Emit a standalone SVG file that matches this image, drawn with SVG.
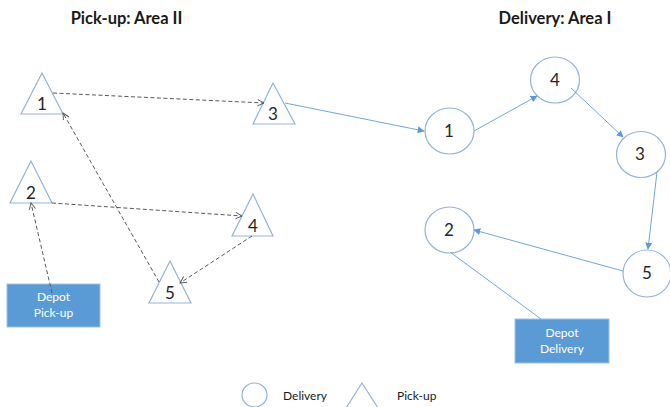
<svg xmlns="http://www.w3.org/2000/svg" width="670" height="407" viewBox="0 0 670 407">
<defs>
<marker id="open" viewBox="0 0 10 10" refX="9" refY="5" markerWidth="8" markerHeight="8" markerUnits="userSpaceOnUse" orient="auto">
<path d="M1,1 L9,5 L1,9" fill="none" stroke="#595959" stroke-width="1.2"/>
</marker>
<marker id="solid" viewBox="0 0 10 10" refX="9" refY="5" markerWidth="7" markerHeight="7" markerUnits="userSpaceOnUse" orient="auto">
<path d="M0,0 L10,5 L0,10 Z" fill="#5B9BD5"/>
</marker>
</defs>
<style>
.tri{fill:#fff;stroke:#95B3D7;stroke-width:1.2}
.cir{fill:#fff;stroke:#95B3D7;stroke-width:1.2}
.num{font-family:Lato,"Liberation Sans",sans-serif;font-size:17px;fill:#262626;text-anchor:middle}
.title{font-family:Lato,"Liberation Sans",sans-serif;font-size:16.5px;font-weight:bold;fill:#1a1a1a;text-anchor:middle}
.dep{fill:#5B9BD5;stroke:#9DC3E6;stroke-width:1}
.dt{font-family:Lato,"Liberation Sans",sans-serif;font-size:12px;fill:#fff;text-anchor:middle}
.leg{font-family:Lato,"Liberation Sans",sans-serif;font-size:12px;fill:#1a1a1a}
.dash{fill:none;stroke:#595959;stroke-width:1;stroke-dasharray:4,2.5;marker-end:url(#open)}
.sol{fill:none;stroke:#6FA8DC;stroke-width:1;marker-end:url(#solid)}
</style>
<rect width="670" height="407" fill="#fff"/>
<text class="title" x="126.5" y="24">Pick-up: Area II</text>
<text class="title" x="555" y="24">Delivery: Area I</text>

<g id="pickup-1"><polygon class="tri" points="42,73 21,114 63,114"/><text class="num" x="42" y="110">1</text></g>
<g id="pickup-3"><polygon class="tri" points="273,83 253,124 295,124"/><text class="num" x="273" y="120">3</text></g>
<g id="pickup-2"><polygon class="tri" points="31,161 10,203 52,203"/><text class="num" x="31" y="199">2</text></g>
<g id="pickup-4"><polygon class="tri" points="253,194 232,236 273,236"/><text class="num" x="253" y="232">4</text></g>
<g id="pickup-5"><polygon class="tri" points="170,261 149,303 191,303"/><text class="num" x="170" y="299">5</text></g>
<g id="depot-pickup"><rect class="dep" x="7" y="284" width="93" height="43"/><text class="dt" x="53.5" y="301">Depot</text><text class="dt" x="53.5" y="317">Pick-up</text></g>

<g id="delivery-4"><ellipse class="cir" cx="555" cy="80" rx="24.5" ry="23"/><text class="num" x="555" y="86">4</text></g>
<g id="delivery-1"><ellipse class="cir" cx="449.5" cy="131" rx="24.5" ry="23"/><text class="num" x="449" y="137">1</text></g>
<g id="delivery-3"><ellipse class="cir" cx="641" cy="154.5" rx="24.5" ry="23"/><text class="num" x="640" y="160">3</text></g>
<g id="delivery-2"><ellipse class="cir" cx="449.5" cy="230" rx="24.5" ry="23"/><text class="num" x="449" y="236">2</text></g>
<g id="delivery-5"><ellipse class="cir" cx="647" cy="273.5" rx="24" ry="23.5"/><text class="num" x="647" y="279">5</text></g>
<g id="depot-delivery"><rect class="dep" x="515" y="319" width="94" height="44"/><text class="dt" x="562" y="337">Depot</text><text class="dt" x="562" y="353">Delivery</text></g>

<g id="connectors">
<line class="dash" x1="53" y1="93" x2="264" y2="103"/>
<line class="dash" x1="159" y1="282" x2="63" y2="113"/>
<line class="dash" x1="52" y1="203" x2="242" y2="216"/>
<line class="dash" x1="252" y1="236" x2="180" y2="283"/>
<line class="dash" x1="52" y1="293" x2="31" y2="203"/>
<line class="sol" x1="285" y1="103" x2="424" y2="131"/>
<line class="sol" x1="474" y1="131" x2="537" y2="96"/>
<line class="sol" x1="571" y1="88" x2="623" y2="137"/>
<line class="sol" x1="657" y1="172" x2="648" y2="249"/>
<line class="sol" x1="623" y1="271" x2="474" y2="230"/>
<line fill="none" stroke="#6FA8DC" stroke-width="1" x1="541" y1="319" x2="450" y2="252"/>
</g>

<g id="legend">
<ellipse class="cir" cx="254.5" cy="395" rx="12.5" ry="12"/>
<text class="leg" x="283" y="400">Delivery</text>
<polygon class="tri" points="362,383 346,408 378,408"/>
<text class="leg" x="397" y="400">Pick-up</text>
</g>
</svg>
